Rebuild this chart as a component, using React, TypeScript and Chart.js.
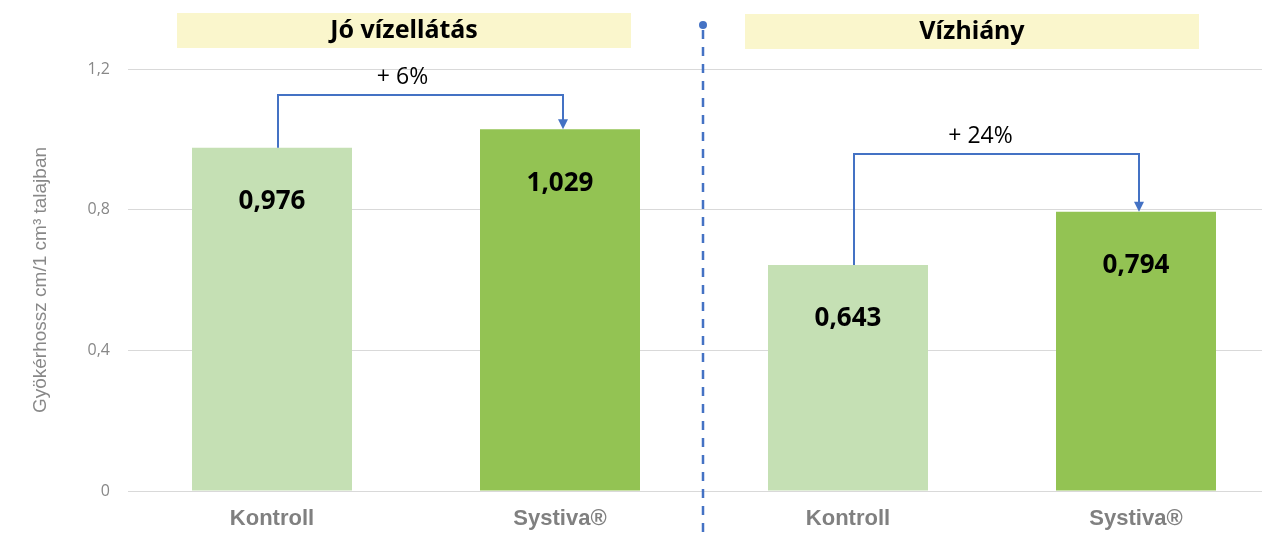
import React, { useEffect, useRef } from "react";
import { Chart, registerables } from "chart.js";

Chart.register(...registerables);

const categories = ["Kontroll", "Systiva®", "Kontroll", "Systiva®"];
const values = [0.976, 1.029, 0.643, 0.794];
const valueLabels = ["0,976", "1,029", "0,643", "0,794"];
const barColors = ["#C5E0B4", "#93C353", "#C5E0B4", "#93C353"];
const groupTitles = ["Jó vízellátás", "Vízhiány"];
const yTicks = [0, 0.4, 0.8, 1.2];
const yTickLabels = ["0", "0,4", "0,8", "1,2"];
const yTitle = "Gyökérhossz cm/1 cm³ talajban";
const changeLabels = ["+ 6%", "+ 24%"];
const bracketLevels = [1.126, 0.958];

const BLUE = "#4472C4";

const overlayPlugin = {
  id: "overlay",
  afterDatasetsDraw(chart: any) {
    const { ctx, scales } = chart;
    const y = scales.y;
    const meta = chart.getDatasetMeta(0);
    ctx.save();

    // value labels inside bars
    ctx.fillStyle = "#000";
    ctx.font = "bold 26px 'Noto Sans', 'Liberation Sans', sans-serif";
    ctx.textAlign = "center";
    ctx.textBaseline = "middle";
    meta.data.forEach((bar: any, i: number) => {
      ctx.fillText(valueLabels[i], bar.x, bar.y + 54);
    });

    // brackets with arrows
    for (let g = 0; g < 2; g++) {
      const a = meta.data[g * 2];
      const b = meta.data[g * 2 + 1];
      const x1 = a.x + 6;
      const x2 = b.x + 3;
      const yl = y.getPixelForValue(bracketLevels[g]);
      ctx.strokeStyle = BLUE;
      ctx.lineWidth = 2;
      ctx.beginPath();
      ctx.moveTo(x1, a.y);
      ctx.lineTo(x1, yl);
      ctx.lineTo(x2, yl);
      ctx.lineTo(x2, b.y - 8);
      ctx.stroke();
      ctx.fillStyle = BLUE;
      ctx.beginPath();
      ctx.moveTo(x2 - 5, b.y - 10);
      ctx.lineTo(x2 + 5, b.y - 10);
      ctx.lineTo(x2, b.y);
      ctx.closePath();
      ctx.fill();
      ctx.fillStyle = "#000";
      ctx.font = "23px 'Open Sans', 'Liberation Sans', sans-serif";
      ctx.textAlign = "center";
      ctx.textBaseline = "middle";
      ctx.fillText(changeLabels[g], (x1 + x2) / 2 - (g === 0 ? 18 : 16), yl - 18);
    }

    // group headers
    for (let g = 0; g < 2; g++) {
      const cx = (meta.data[g * 2].x + meta.data[g * 2 + 1].x) / 2 - (g === 0 ? 12 : 20);
      const top = g === 0 ? 13 : 14;
      ctx.fillStyle = "#FAF6CC";
      ctx.fillRect(cx - 227, top, 454, 35);
      ctx.fillStyle = "#000";
      ctx.font = "bold 25px 'Noto Sans', 'Liberation Sans', sans-serif";
      ctx.textAlign = "center";
      ctx.textBaseline = "middle";
      ctx.fillText(groupTitles[g], cx, top + 18);
    }

    // divider
    const dx = (meta.data[1].x + meta.data[2].x) / 2 - 1;
    ctx.strokeStyle = BLUE;
    ctx.lineWidth = 2.5;
    ctx.setLineDash([9, 8]);
    ctx.beginPath();
    ctx.moveTo(dx, 30);
    ctx.lineTo(dx, chart.height);
    ctx.stroke();
    ctx.setLineDash([]);
    ctx.fillStyle = BLUE;
    ctx.beginPath();
    ctx.arc(dx, 25, 4, 0, Math.PI * 2);
    ctx.fill();

    ctx.restore();
  },
};

export default function App() {
  const ref = useRef<HTMLCanvasElement>(null);
  useEffect(() => {
    if (!ref.current) return;
    const chart = new Chart(ref.current, {
      type: "bar",
      data: {
        labels: categories,
        datasets: [
          {
            data: values,
            backgroundColor: barColors,
            borderWidth: 0,
            categoryPercentage: 1,
            barPercentage: 160 / 288,
          },
        ],
      },
      options: {
        responsive: false,
        animation: false,
        layout: { padding: { top: 69, left: 0, right: 0, bottom: 0 } },
        plugins: {
          legend: { display: false },
          tooltip: { enabled: false },
        },
        scales: {
          x: {
            afterFit: (s: any) => {
              s.height = 42;
            },
            grid: { display: false, drawTicks: false },
            border: { display: false },
            ticks: {
              padding: 15,
              color: "#808080",
              font: { family: "'Liberation Sans', Arial, sans-serif", size: 22, weight: "bold" },
            },
          },
          y: {
            min: 0,
            max: 1.2,
            afterFit: (s: any) => {
              s.width = 128;
            },
            afterBuildTicks: (s: any) => {
              s.ticks = yTicks.map((v) => ({ value: v }));
            },
            grid: { color: "#D9D9D9", lineWidth: 1, drawTicks: false },
            border: { display: false },
            ticks: {
              padding: 18,
              color: "#888888",
              font: { family: "'Open Sans', 'Liberation Sans', sans-serif", size: 16 },
              callback: (v: any) => {
                const i = yTicks.findIndex((t) => Math.abs(t - Number(v)) < 1e-6);
                return i >= 0 ? yTickLabels[i] : "";
              },
            },
            title: {
              display: true,
              text: yTitle,
              color: "#888888",
              padding: { top: 29, bottom: 0 },
              font: { family: "'Liberation Sans', Arial, sans-serif", size: 19 },
            },
          },
        },
      },
      plugins: [overlayPlugin],
    });
    return () => chart.destroy();
  }, []);
  return (
    <div style={{ position: "fixed", left: 0, top: 0, width: 1262, height: 533, overflow: "hidden", background: "#fff" }}>
      <canvas ref={ref} width={1280} height={533} style={{ display: "block" }} />
    </div>
  );
}
